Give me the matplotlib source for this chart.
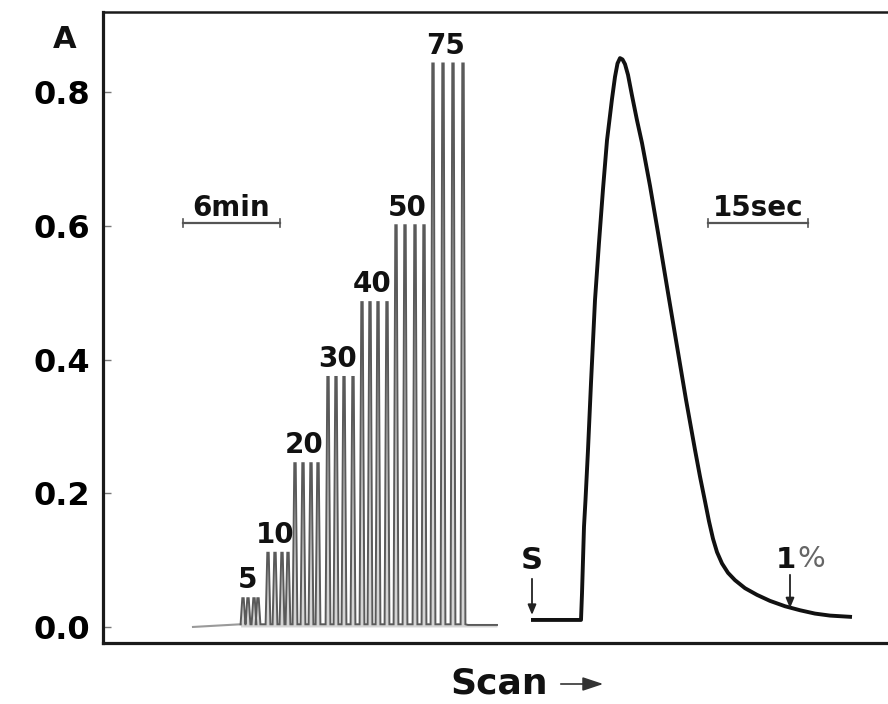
import matplotlib
matplotlib.use("Agg")
import matplotlib.pyplot as plt
import matplotlib.patches as mpatches

# ---------------- data ----------------
conc_labels = ["5", "10", "20", "30", "40", "50", "75"]
group_heights = [0.043, 0.111, 0.245, 0.374, 0.486, 0.601, 0.843]
spike_pos = [
    [243, 248, 254, 258],
    [268, 275, 282, 288],
    [295, 303, 311, 318],
    [328, 336, 344, 353],
    [362, 370, 378, 387],
    [396, 405, 415, 424],
    [433, 443, 453, 463],
]
baseline_start = 193
baseline_end = 497

peak_x = [531, 581, 582, 583, 584, 585.5, 588, 591, 595, 599, 603, 607, 612,
          615, 617.5, 620, 622.5, 625, 628, 632, 637, 642, 650, 658, 668, 677,
          686, 695, 700, 705, 709, 713, 717, 722, 728, 735, 745, 757, 770, 785,
          800, 815, 830, 852]
peak_y = [0.0105, 0.0105, 0.05, 0.10, 0.15, 0.19, 0.265, 0.365, 0.489, 0.575,
          0.655, 0.728, 0.790, 0.823, 0.843, 0.851, 0.849, 0.842, 0.826, 0.795,
          0.758, 0.724, 0.660, 0.590, 0.500, 0.420, 0.340, 0.265, 0.225, 0.188,
          0.158, 0.132, 0.112, 0.095, 0.081, 0.070, 0.058, 0.048, 0.039, 0.031,
          0.025, 0.020, 0.017, 0.015]

yticks = [0.0, 0.2, 0.4, 0.6, 0.8]
ytick_labels = ["0.0", "0.2", "0.4", "0.6", "0.8"]

FONT = "DejaVu Sans"

# ---------------- figure ----------------
W, H = 888, 704
fig = plt.figure(figsize=(W / 100, H / 100), dpi=100)
fig.patch.set_facecolor("white")
x_left, x_right = 103, 905
y_top_px, y_bot_px = 12, 643
ax = fig.add_axes([x_left / W, (H - y_bot_px) / H,
                   (x_right - x_left) / W, (y_bot_px - y_top_px) / H])
ax.set_xlim(x_left, x_right)
ax.set_ylim(-0.024, 0.92)
ax.set_facecolor("white")

for s in ["left", "bottom"]:
    ax.spines[s].set_linewidth(2.3)
    ax.spines[s].set_color("#1a1a1a")
ax.spines["top"].set_linewidth(1.8)
ax.spines["top"].set_color("#1a1a1a")
ax.spines["right"].set_visible(False)

ax.set_xticks([])
ax.set_yticks(yticks)
ax.set_yticklabels(ytick_labels, fontsize=23, fontweight="bold", family=FONT)
ax.tick_params(axis="y", direction="in", length=6, width=1, color="#777777",
               pad=9)

# ---- left: series of injections ----
tx = [baseline_start]
ty = [0.0]
for grp, h in zip(spike_pos, group_heights):
    for x in grp:
        tx += [x - 2.4, x - 0.7, x + 0.7, x + 2.4]
        ty += [0.004, h, h, 0.004]
tx += [468, 470, baseline_end]
ty += [0.003, 0.003, 0.003]
ax.fill_between(tx[1:], 0, ty[1:], color="#d4d4d4", lw=0, zorder=1)
ax.plot(tx[:2], ty[:2], color="#9a9a9a", lw=1.5, zorder=2)
ax.plot(tx[1:], ty[1:], color="#5a5a5a", lw=1.4, solid_joinstyle="miter",
        zorder=2)

for lab, grp, h in zip(conc_labels, spike_pos, group_heights):
    cx = (grp[0] + grp[-1]) / 2
    ax.annotate(lab, (cx, h), xytext=(-2, 7), textcoords="offset points",
                ha="center", va="baseline", fontsize=20, fontweight="bold",
                family=FONT, color="#111111")

# ---- right: single peak ----
ax.plot(peak_x, peak_y, color="#111111", lw=2.8, solid_joinstyle="round",
        solid_capstyle="butt")

# arrows S and 1%
arrow_kw = dict(arrowstyle="-|>,head_length=0.6,head_width=0.25",
                color="#222222", lw=1.3, shrinkA=0, shrinkB=0)
ax.annotate("", xy=(532, 0.018), xytext=(532, 0.072), arrowprops=arrow_kw)
ax.text(532, 0.086, "S", ha="center", va="baseline", fontsize=22,
        fontweight="bold", family=FONT, color="#111111")
ax.annotate("", xy=(790, 0.028), xytext=(790, 0.078), arrowprops=arrow_kw)
ax.text(786, 0.088, "1", ha="center", va="baseline", fontsize=21,
        fontweight="bold", family=FONT, color="#111111")
ax.text(797, 0.090, "%", ha="left", va="baseline", fontsize=21,
        family=FONT, color="#666666")

# scale bars
def scale_bar(x0, x1, yv, label):
    ax.plot([x0, x1], [yv, yv], color="#555555", lw=1.6)
    ax.plot([x0, x0], [yv - 0.006, yv + 0.006], color="#555555", lw=1.2)
    ax.plot([x1, x1], [yv - 0.006, yv + 0.006], color="#555555", lw=1.2)
    ax.annotate(label, ((x0 + x1) / 2, yv), xytext=(0, 5),
                textcoords="offset points", ha="center", va="baseline",
                fontsize=20, fontweight="bold", family=FONT, color="#111111")

scale_bar(183, 280, 0.604, "6min")
scale_bar(708, 808, 0.604, "15sec")

# "A" axis label
fig.text(65 / W, (H - 48) / H, "A", ha="center", va="baseline", fontsize=22,
         fontweight="bold", family=FONT, color="#111111")

# "Scan ->"
fig.text(548 / W, (H - 694) / H, "Scan", ha="right", va="baseline",
         fontsize=26, fontweight="bold", family=FONT, color="#111111")
fig.patches.append(mpatches.FancyArrowPatch(
    (558 / W, (H - 684) / H), (606 / W, (H - 684) / H),
    transform=fig.transFigure, arrowstyle="-|>,head_length=0.9,head_width=0.3",
    color="#333333", lw=1.2, mutation_scale=14))

fig.savefig("out.png", dpi=100, facecolor="white")
